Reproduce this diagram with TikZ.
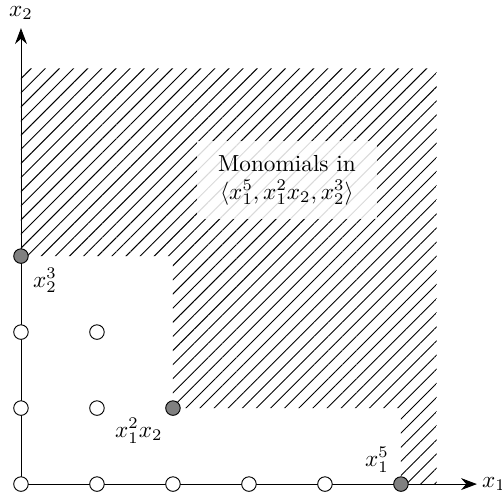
\documentclass[tikz,border=0pt]{standalone}
\usetikzlibrary{positioning, arrows.meta, patterns.meta}

\tikzset{
  monomial/.style={circle, draw, fill=white, inner sep=0pt, minimum size=2.2mm},
  generator/.style={monomial, fill=gray},
  hatched/.style={pattern={Lines[angle=45, distance=4.3pt, line width=0.4pt]}},
}

\begin{document}
\begin{tikzpicture}[x=1.15cm, y=1.15cm]
  \useasboundingbox (-0.276,-0.145) rectangle (6.33,6.37);

  % ideal region
  \path[hatched] (0,3) -- (0,5.47) -- (5.47,5.47) -- (5.47,0) -- (5,0)
    -- (5,1) -- (2,1) -- (2,3) -- cycle;

  \coordinate (origin) at (0,0);
  \coordinate (xtip) at (6,0);
  \coordinate (ytip) at (0,6);
  \draw[-{Stealth[length=2.4mm]}] (origin) -- (xtip) node[right, inner sep=2pt] {$x_1$};
  \draw[-{Stealth[length=2.4mm]}] (origin) -- (ytip) node[above] {$x_2$};

  \node[fill=white, fill opacity=0.85, text opacity=1, align=center,
        inner xsep=9pt, inner ysep=6pt] (caption) at (3.5,4)
    {Monomials in\\ $\langle x_1^5, x_1^2x_2, x_2^3\rangle$};

  \foreach \i/\j in {0/0, 1/0, 2/0, 3/0, 4/0, 0/1, 1/1, 0/2, 1/2}
    \node[monomial] (m\i\j) at (\i,\j) {};

  \node[generator] (g50) at (5,0) {};
  \node[generator] (g21) at (2,1) {};
  \node[generator] (g03) at (0,3) {};

  \node[above left=-1pt of g50] {$x_1^5$};
  \node[below left=-2pt of g21] {$x_1^2x_2$};
  \node[below right=-1pt of g03] {$x_2^3$};
\end{tikzpicture}
\end{document}
